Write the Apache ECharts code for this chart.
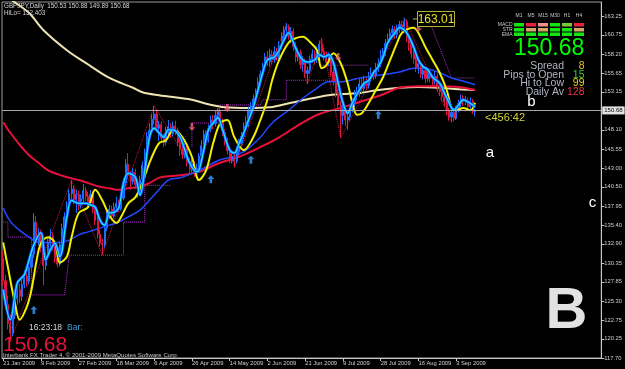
<!DOCTYPE html>
<html><head><meta charset="utf-8">
<script src="https://cdn.jsdelivr.net/npm/echarts@6/dist/echarts.min.js"></script>
<style>html,body{margin:0;padding:0;background:#000;}#c{width:625px;height:369px;}</style>
</head><body><div id="c"></div>
<script>
// ---------------- data ----------------
const slotCount = 254;                 // bar slots on the x axis (Sun-Fri daily bars)
const labelEvery = 16;                 // bars between date labels
const xTickLabels = ['21 Jan 2009','9 Feb 2009','27 Feb 2009','18 Mar 2009','6 Apr 2009','26 Apr 2009',
  '14 May 2009','2 Jun 2009','21 Jun 2009','9 Jul 2009','28 Jul 2009','16 Aug 2009','3 Sep 2009'];
const yTickValues = [117.70,120.25,122.75,125.30,127.85,130.35,132.90,135.40,137.95,140.50,143.00,
  145.55,148.10,153.15,155.65,158.20,160.75,163.25];
const bidPrice = 150.68;

// [open, close, low, high]
const candles = [
[131.0,128.0,127.4,131.9],[128.0,124.8,124.2,128.8],[124.8,122.3,121.5,126.0],[122.3,121.0,119.9,123.5],
[121.0,123.4,120.6,123.8],[123.4,125.6,122.9,126.2],[125.6,126.8,124.8,127.9],[126.8,125.9,125.0,127.6],
[125.9,127.5,125.3,128.1],[127.5,128.6,127.0,129.4],[128.6,127.9,127.2,129.0],[127.9,129.8,127.5,130.4],
[129.8,131.5,129.2,132.3],[131.5,135.8,131.0,137.0],[135.8,133.1,132.6,136.6],[133.1,134.2,132.7,135.0],
[134.2,132.4,131.8,134.8],[132.4,130.0,127.4,132.9],[130.0,131.2,129.4,131.8],[131.2,133.0,130.8,133.6],
[133.0,134.0,132.4,134.9],[134.0,132.5,132.0,134.4],[132.5,131.0,130.4,133.0],[131.0,130.2,129.8,131.6],
[130.2,132.8,129.9,133.2],[132.8,135.0,132.3,135.6],[135.0,136.5,134.5,137.1],[136.5,137.8,135.9,138.6],
[137.8,139.6,137.2,140.2],[139.6,140.2,138.9,141.4],[140.2,138.8,138.2,140.7],[138.8,139.5,137.0,140.1],
[139.5,138.0,137.4,140.0],[138.0,138.9,137.6,139.5],[138.9,140.0,138.3,140.9],[140.0,139.2,138.6,140.5],
[139.2,138.4,137.8,139.8],[138.4,139.5,138.0,140.1],[139.5,137.5,137.0,139.9],[137.5,136.0,135.4,138.0],
[136.0,134.2,133.6,136.5],[134.2,133.0,132.5,134.8],[133.0,132.8,131.4,133.6],[132.8,135.0,132.4,135.6],
[135.0,136.8,134.6,137.2],[136.8,137.5,136.2,138.1],[137.5,136.6,136.0,138.0],[136.6,137.8,136.3,138.4],
[137.8,138.3,137.3,139.2],[138.3,137.6,137.1,138.8],[137.6,139.0,137.3,139.5],[139.0,141.0,138.7,141.6],
[141.0,143.5,140.6,144.2],[143.5,142.0,141.5,145.0],[142.0,141.2,140.1,142.6],[141.2,142.4,140.8,143.0],
[142.4,140.8,140.2,142.9],[140.8,139.8,139.0,141.3],[139.8,141.5,139.4,142.0],[141.5,143.4,141.0,143.9],
[143.4,145.0,142.9,145.6],[145.0,147.2,144.5,147.8],[147.2,148.0,146.4,149.0],[148.0,149.5,147.4,150.2],
[149.5,150.2,148.8,151.3],[150.2,148.3,147.8,150.6],[148.3,148.8,146.6,149.3],[148.8,147.0,146.4,149.2],
[147.0,146.4,145.8,147.6],[146.4,147.8,146.0,148.5],[147.8,148.5,147.2,149.4],[148.5,147.6,147.0,149.0],
[147.6,148.6,147.2,149.2],[148.6,148.0,147.4,149.3],[148.0,146.4,145.9,148.4],[146.4,145.5,144.6,146.9],
[145.5,144.8,144.2,146.0],[144.8,145.6,144.3,146.3],[145.6,143.8,143.2,146.0],[143.8,142.9,142.1,144.4],
[142.9,143.5,142.4,144.2],[143.5,142.4,141.8,143.9],[142.4,143.0,142.0,143.6],[143.0,144.6,142.6,145.0],
[144.6,146.0,144.1,146.7],[146.0,147.5,145.6,148.1],[147.5,146.8,146.2,148.0],[146.8,148.2,146.4,148.8],
[148.2,149.4,147.8,150.0],[149.4,148.9,148.2,150.1],[148.9,150.0,148.5,150.6],[150.0,150.5,149.6,151.0],
[150.5,149.2,148.7,150.9],[149.2,147.8,147.3,149.6],[147.8,146.6,146.0,148.2],[146.6,145.3,144.8,147.0],
[145.3,144.0,143.7,145.8],[144.0,144.5,143.6,145.2],[144.5,143.9,143.1,145.0],[143.9,145.2,143.6,145.7],
[145.2,146.3,144.8,146.9],[146.3,147.2,145.9,147.8],[147.2,148.6,146.8,149.1],[148.6,149.2,148.0,149.9],
[149.2,150.6,148.5,151.2],[150.6,151.3,150.0,151.8],[151.3,152.2,150.8,152.8],[152.2,153.0,151.6,153.6],
[153.0,154.4,152.5,155.1],[154.4,155.5,153.9,156.0],[155.5,156.4,155.0,157.0],[156.4,157.8,155.9,158.3],
[157.8,157.2,156.6,158.6],[157.2,158.1,156.5,158.9],[158.1,157.4,156.8,158.7],[157.4,158.5,157.0,159.2],
[158.5,157.8,157.3,159.0],[157.8,159.3,157.4,159.9],[159.3,160.6,158.8,161.1],[160.6,161.4,160.0,161.9],
[161.4,161.8,160.8,162.3],[161.8,160.7,160.1,162.1],[160.7,161.2,160.0,161.8],[161.2,159.2,158.6,161.6],
[159.2,157.8,157.1,159.8],[157.8,158.4,157.2,159.0],[158.4,156.8,156.2,158.8],[156.8,157.2,155.9,157.9],
[157.2,155.6,155.0,157.6],[155.6,156.0,154.2,156.5],[156.0,157.5,155.6,158.0],[157.5,158.2,157.0,158.8],
[158.2,157.4,156.8,158.7],[157.4,158.6,157.0,159.2],[158.6,159.5,158.1,160.0],[159.5,158.5,158.0,160.3],
[158.5,158.0,157.3,159.0],[158.0,157.0,156.4,158.5],[157.0,157.8,156.6,158.4],[157.8,155.8,155.2,158.1],
[155.8,154.6,154.0,156.3],[154.6,153.0,152.4,155.0],[153.0,151.4,150.8,153.5],[151.4,150.0,147.0,151.9],
[150.0,150.9,148.8,151.5],[150.9,149.4,148.6,151.3],[149.4,149.8,148.1,150.4],[149.8,150.9,149.3,151.4],
[150.9,151.6,150.4,152.2],[151.6,152.6,151.1,153.4],[152.6,153.0,152.0,153.8],[153.0,154.2,152.5,154.9],
[154.2,153.6,153.0,155.0],[153.6,154.5,153.2,155.3],[154.5,154.0,153.4,155.0],[154.0,155.0,153.6,155.8],
[155.0,155.5,154.5,156.4],[155.5,155.3,154.7,156.1],[155.3,156.4,154.9,157.0],[156.4,156.9,155.8,157.6],
[156.9,158.0,156.4,158.7],[158.0,158.3,157.4,159.0],[158.3,159.6,157.9,160.2],[159.6,160.2,159.0,160.9],
[160.2,161.0,159.7,161.6],[161.0,161.5,160.4,162.0],[161.5,160.8,160.2,161.9],[160.8,161.6,160.3,162.1],
[161.6,162.1,161.0,162.6],[162.1,161.8,161.2,162.6],[161.8,162.5,161.3,163.01],[162.5,160.4,159.8,162.8],
[160.4,159.6,158.6,161.0],[159.6,158.2,157.6,160.1],[158.2,157.5,156.9,158.9],[157.5,156.4,155.8,158.0],
[156.4,156.9,155.6,157.6],[156.9,155.5,155.0,157.3],[155.5,156.0,154.8,156.6],[156.0,154.9,154.3,156.4],
[154.9,155.6,154.5,156.2],[155.6,155.0,154.4,156.0],[155.0,154.6,154.0,155.5],[154.6,155.2,154.2,155.9],
[155.2,153.8,153.2,155.6],[153.8,153.2,152.6,154.3],[153.2,152.5,151.9,153.7],[152.5,151.8,151.2,153.0],
[151.8,150.6,150.0,152.3],[150.6,149.8,149.3,151.0],[149.8,150.4,149.1,150.9],[150.4,149.6,149.2,150.9],
[149.6,150.8,149.4,151.3],[150.8,151.6,150.4,152.1],[151.6,152.2,151.1,152.8],[152.2,151.8,151.3,152.7],
[151.8,152.0,151.4,152.6],[152.0,151.2,150.7,152.4],[151.2,151.9,150.9,152.4],[151.9,150.53,150.2,152.2],
[150.53,150.68,149.89,150.88]
];

// indicator lines: [bar index, price]
const fastMA = [[0,126.8],[3,122.8],[6,127.7],[9,128.8],[11,130.8],[13,132.8],[16,134.4],[18,130.8],[20,132.1],
[22,133.0],[24,131.2],[27,136.5],[29,138.7],[32,138.3],[35,138.3],[37,138.1],[39,137.8],[41,136.1],[43,135.4],
[45,137.0],[47,137.1],[49,137.7],[51,141.0],[53,142.3],[56,141.8],[58,139.4],[60,142.7],[62,147.1],[64,148.3],
[66,147.7],[68,147.1],[70,148.1],[72,148.1],[75,147.1],[77,145.4],[79,143.7],[82,142.5],[83,142.7],[85,145.4],
[87,148.1],[89,149.0],[91,149.7],[93,148.1],[96,145.4],[98,145.0],[100,146.3],[102,147.7],[104,149.4],[106,151.1],
[108,153.4],[110,155.7],[112,157.4],[115,157.8],[117,158.7],[119,160.05],[121,161.0],[123,159.7],[125,158.3],
[127,157.4],[129,157.1],[132,157.4],[134,158.1],[136,157.8],[138,158.1],[140,157.0],[142,154.3],[144,151.7],
[146,150.3],[148,151.7],[151,153.4],[153,154.3],[155,154.7],[157,155.7],[159,156.5],[161,157.8],[163,159.7],
[166,161.0],[168,161.7],[170,161.4],[172,160.5],[174,159.1],[176,157.4],[178,156.5],[180,156.1],[182,155.1],
[185,154.3],[187,153.0],[189,151.7],[191,150.7],[193,151.4],[195,152.1],[197,151.8],[199,151.4],[200,151.1]];
const yellowMA = [[0,133.1],[2,129.8],[5,125.0],[7,122.8],[10,124.5],[12,126.8],[14,130.4],[16,133.0],[19,133.8],
[22,133.0],[24,130.4],[27,131.2],[29,133.8],[32,137.0],[36,137.8],[39,140.1],[42,138.7],[45,136.7],[48,135.7],
[50,136.5],[53,138.3],[56,139.1],[59,141.0],[62,143.7],[66,146.3],[69,146.7],[72,148.1],[76,147.1],[80,144.5],
[83,141.4],[86,142.7],[89,146.3],[92,149.0],[95,149.4],[98,147.1],[102,145.4],[106,147.1],[109,149.4],[112,152.1],
[114,154.7],[117,157.4],[121,159.7],[124,160.3],[127,160.5],[130,159.8],[133,158.7],[135,156.3],[137,156.7],
[140,158.3],[143,157.0],[146,154.3],[148,151.7],[150,150.1],[152,150.3],[155,151.7],[158,153.4],[161,155.1],
[164,157.4],[167,159.7],[169,161.0],[174,161.7],[176,161.0],[179,159.1],[182,157.4],[185,155.7],[188,153.4],
[190,151.1],[192,150.7],[195,151.0],[198,150.7],[200,151.7]];
const blueMA = [[0,137.7],[3,135.9],[7,134.7],[11,133.8],[15,133.1],[24,133.1],[28,133.4],[32,134.1],[36,134.5],
[41,135.0],[45,135.4],[49,135.8],[53,136.5],[58,137.4],[62,138.7],[66,140.1],[70,141.4],[75,141.7],[83,142.7],
[92,144.1],[97,144.5],[103,145.4],[109,147.1],[114,149.0],[121,150.7],[127,152.3],[132,153.4],[138,154.5],
[143,154.5],[151,155.0],[160,155.4],[168,155.8],[174,156.3],[178,156.3],[185,155.7],[190,155.0],[196,154.5],[200,154.1]];
const redMA = [[0,149.1],[3,147.7],[7,146.1],[11,144.7],[15,143.7],[19,142.7],[24,142.1],[28,141.7],[32,141.4],
[36,141.0],[41,140.5],[45,140.3],[49,140.1],[53,140.3],[58,140.5],[62,141.0],[66,141.7],[70,141.9],[79,142.2],
[83,142.5],[92,143.7],[100,144.5],[109,145.8],[117,147.1],[125,148.7],[134,150.2],[143,151.0],[151,151.8],
[160,152.7],[168,153.7],[176,153.9],[185,153.9],[193,153.8],[200,153.4]];
const creamMA = [[0,166.4],[4,165.3],[11,163.65],[17,161.4],[27,158.7],[35,157.0],[45,155.0],[55,153.7],[59,153.1],
[66,152.7],[80,152.1],[87,151.5],[94,151.1],[104,151.0],[113,151.1],[122,151.7],[131,152.3],[138,152.7],
[151,153.0],[159,153.4],[168,153.7],[176,153.8],[185,153.7],[193,153.5],[200,153.4]];
const zigzag = [[3,119.9],[29,141.4],[42,131.4],[64,151.3],[82,142.0],[91,151.0],[98,143.1],[120,162.3],
[129,154.2],[135,160.3],[143,147.0],[170,163.01],[190,149.1]];
const levelSegments = [
  [[0,135.8],[2,135.8],[2,133.8],[12,133.8],[12,126.1],[26,126.1],[28,131.4],[51,131.4],[51,135.8],[60,135.8],[60,140.7],[71,140.7]],
  [[80,145.8],[80,149.0],[91,149.0],[92,151.4],[109,151.4],[110,152.1],[120,152.1],[120,154.7],[140,154.7]],
  [[134,156.7],[155,156.7]],
  [[150,150.7],[167,150.7]],
  [[181,162.3],[190,155.0],[200,155.0]]
];
const buyArrows = [[13,124.1],[88,141.5],[105,144.1],[159,150.1]];
const sellArrows = [[80,148.5],[95,151.0],[142,157.8],[176,161.65]];

// info panel
const panelCols = ['M1','M5','M15','M30','H1','H4'];
const panelRows = ['MACD','STR','EMA'];
const panelStates = [
  ['up','down','weakDown','up','weakUp','down'],
  ['up','flat','flat','up','up','flat'],
  ['up','up','up','up','up','up']
];
const statLabels = ['Spread','Pips to Open','Hi to Low','Daily Av'];
const statValues = ['8','15','99','128'];

// ---------------- categories (trading days, Sun-Fri) ----------------
const monthNames = ['Jan','Feb','Mar','Apr','May','Jun','Jul','Aug','Sep','Oct','Nov','Dec'];
const categories = [];
let dt = new Date(Date.UTC(2009,0,21));
while (categories.length < slotCount) {
  if (dt.getUTCDay() !== 6) categories.push(dt.getUTCDate()+' '+monthNames[dt.getUTCMonth()]+' '+dt.getUTCFullYear());
  dt = new Date(dt.getTime()+86400000);
}

// ---------------- chart ----------------
const FONT = '"Liberation Sans", Arial, sans-serif';
const chart = echarts.init(document.getElementById('c'), null, {renderer:'canvas'});

const g = [];
function txt(x, y, text, size, fill, align, weight){
  g.push({type:'text', x:x, y:y, silent:true, z:100,
    style:{text:text, font:(weight||'normal')+' '+size+'px '+FONT, fill:fill, textAlign:align||'left', textVerticalAlign:'middle'}});
}
txt(4, 6, 'GBPJPY,Daily  150.53 150.88 149.89 150.68', 6.3, '#d8d8d8');
txt(4, 13, 'HiLo= 152.403', 6.3, '#d8d8d8');
const stateColor = {up:'#14e614', down:'#e6203e', weakDown:'#f0908c', weakUp:'#78c83c', flat:'#d6a466'};
const colX = [514,526,538,550,562,574];
const rowY = [23,28,32.5];
panelCols.forEach((c,i)=>txt(colX[i]+5, 16, c, 5, '#c8c8c8', 'center'));
panelRows.forEach((r,j)=>{
  txt(512.5, rowY[j]+1.8, r, 5, '#c8c8c8', 'right');
  panelStates[j].forEach((s,i)=>g.push({type:'rect', silent:true, z:100,
    shape:{x:colX[i], y:rowY[j], width:10, height:3.5}, style:{fill:stateColor[s]}}));
});
txt(514, 48.5, '150.68', 23, '#00ff00');
const statY = [66, 75.5, 83.5, 92];
const statColors = ['#e6c21a','#3ccc3c','#e6d21a','#f0304c'];
statLabels.forEach((s,i)=>{ txt(564, statY[i], s, 10.5, '#b0b4c0', 'right'); txt(584.5, statY[i], statValues[i], 10.5, statColors[i], 'right'); });
txt(531.5, 102, 'b', 15, '#ffffff', 'center');
txt(490, 152.5, 'a', 15, '#ffffff', 'center');
txt(592.5, 202.5, 'c', 15, '#ffffff', 'center');
txt(566.5, 312, 'B', 58, '#e2e2e2', 'center', 'bold');
txt(485, 117.5, '<456:42', 11, '#d2d23c');
g.push({type:'rect', silent:true, z:99, shape:{x:417.5, y:11.5, width:37, height:15}, style:{fill:'#000', stroke:'#b4b432', lineWidth:1}});
g.push({type:'line', silent:true, z:99, shape:{x1:413, y1:19, x2:417.5, y2:19}, style:{stroke:'#b4b432', lineWidth:1}});
txt(436, 19.5, '163.01', 12, '#e8e020', 'center');
txt(29, 328, '16:23:18', 8.5, '#d8d8d8');
txt(67, 328, 'Bar:', 8.5, '#3aa0d8');
txt(3, 345, '150.68', 21, '#e8103c');
txt(3, 355.5, 'Interbank FX Trader 4, \u00a9 2001-2009 MetaQuotes Software Corp.', 6.1, '#c8c8c8');

const lineS = (data, color, width, extra) => Object.assign({type:'line', data:data, symbol:'none', smooth:0.35,
  lineStyle:{color:color, width:width}, silent:true, animation:false, clip:true}, extra||{});

const series = [];
levelSegments.forEach(seg => series.push(lineS(seg, '#b42ad2', 1, {smooth:false, lineStyle:{color:'#b42ad2', width:1, type:'dotted'}, z:1})));
series.push(lineS(zigzag, '#dc143c', 1, {smooth:false, lineStyle:{color:'#dc143c', width:1, type:'dotted'}, z:1}));
series.push(lineS(creamMA, '#eee3b2', 2, {z:2}));
series.push(lineS(redMA, '#e8103c', 2, {z:2}));
series.push(lineS(blueMA, '#2048ff', 1.5, {z:2}));
series.push({type:'candlestick', data:candles, barWidth:1.6, z:3, silent:true, animation:false,
  itemStyle:{color:'#1e6eff', color0:'#e0143c', borderColor:'#1e6eff', borderColor0:'#e0143c', borderWidth:1},
  markLine:{silent:true, symbol:['none','none'], animation:false,
    lineStyle:{color:'#a8a8a8', width:1, type:'solid'},
    label:{show:true, position:'end', formatter:bidPrice.toFixed(2), distance:1, color:'#000', backgroundColor:'#e4e4e4',
      fontSize:6, fontFamily:FONT, padding:[1,2,1,2]},
    data:[{yAxis:bidPrice}]}});
series.push(lineS(yellowMA, '#f0f000', 2, {z:4}));
series.push(lineS(fastMA, '#1450ff', 3, {z:4}));
series.push(lineS(fastMA, '#22e4ff', 1.3, {z:5}));
series.push({type:'scatter', data:buyArrows, symbol:'path://M4,0 L8,4 L5.5,4 L5.5,9 L2.5,9 L2.5,4 L0,4 Z',
  symbolSize:[7,8], itemStyle:{color:'#3a9cff'}, z:6, silent:true, animation:false});
series.push({type:'scatter', data:sellArrows, symbol:'path://M2.5,0 L5.5,0 L5.5,5 L8,5 L4,9 L0,5 L2.5,5 Z',
  symbolSize:[7,8], itemStyle:{color:'#f0607e'}, z:6, silent:true, animation:false});

const showTick = (i) => i % labelEvery === 0 && i / labelEvery < xTickLabels.length;

chart.setOption({
  animation:false,
  backgroundColor:'#000',
  grid:{left:2, right:23, top:2, bottom:11, show:true, borderColor:'#9a9a9a', borderWidth:1, backgroundColor:'#000'},
  xAxis:{type:'category', data:categories, boundaryGap:true,
    axisLine:{show:true, lineStyle:{color:'#c8c8c8'}},
    axisTick:{show:true, alignWithLabel:true, interval:showTick, length:3, inside:false, lineStyle:{color:'#c8c8c8'}},
    axisLabel:{show:true, interval:showTick, formatter:(v,i)=>xTickLabels[Math.round(i/labelEvery)]||'',
      align:'left', color:'#d0d0d0', fontSize:5.8, fontFamily:FONT, margin:2, hideOverlap:false},
    splitLine:{show:false}},
  yAxis:{type:'value', position:'right', min:117.70, max:165.12,
    axisLine:{show:true, lineStyle:{color:'#c8c8c8'}},
    axisTick:{show:true, customValues:yTickValues, length:3, lineStyle:{color:'#c8c8c8'}},
    axisLabel:{show:true, customValues:yTickValues, formatter:(v)=>Number(v).toFixed(2), color:'#d0d0d0', fontSize:5.8, fontFamily:FONT, margin:3},
    splitLine:{show:false}},
  graphic:g,
  series:series
});
</script>
</body></html>
